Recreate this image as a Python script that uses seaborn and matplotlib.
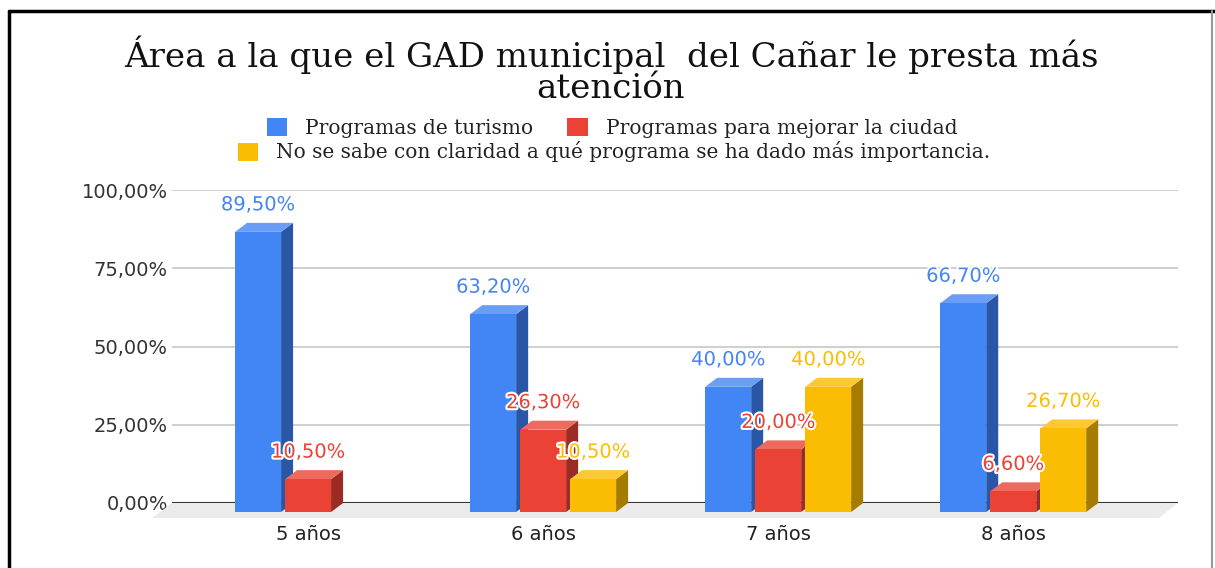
import numpy as np
import pandas as pd
import matplotlib
matplotlib.use('Agg')
import matplotlib.pyplot as plt
import matplotlib.patheffects as pe
import matplotlib.transforms as mtransforms
from matplotlib.patches import Polygon, Patch
from matplotlib.lines import Line2D
import seaborn as sns

# Data
categorias = ['5 años', '6 años', '7 años', '8 años']
series = ['Programas de turismo', 'Programas para mejorar la ciudad',
          'No se sabe con claridad a qué programa se ha dado más importancia.']
turismo = [89.5, 63.2, 40.0, 66.7]
mejorar = [10.5, 26.3, 20.0, 6.6]
no_sabe = [np.nan, 10.5, 40.0, 26.7]
y_ticks = [0, 25, 50, 75, 100]
y_labels = ['0,00%', '25,00%', '50,00%', '75,00%', '100,00%']
titulo = 'Área a la que el GAD municipal  del Cañar le presta más\natención'

# Colors (front, side, top)
colores = ['#4285F4', '#EA4335', '#FBBC04']
lados = ['#2A56A6', '#9B2B23', '#A67C00']
techos = ['#6A9EF6', '#EE6A5F', '#FCC934']

df = pd.DataFrame({'Edad': categorias * 3,
                   'Serie': np.repeat(series, len(categorias)),
                   'Valor': turismo + mejorar + no_sabe}).dropna()

W, H, dpi = 1215, 568, 100
sns.set_style('white')
plt.rcParams['font.family'] = ['DejaVu Sans']

fig = plt.figure(figsize=(W / dpi, H / dpi), dpi=dpi)
ax = fig.add_axes([172 / W, 1 - 503 / H, (1178 - 172) / W, (503 - 190) / H])

sns.barplot(data=df, x='Edad', y='Valor', hue='Serie', order=categorias,
            hue_order=series, palette=colores, width=0.638, gap=0.08,
            saturation=1, legend=False, ax=ax, linewidth=0, zorder=3)

ax.set_xlim(-0.63, 3.65)
ax.set_ylim(0, 100)
ax.set_autoscale_on(False)
ax.set_yticks(y_ticks)
ax.set_yticklabels(y_labels)
ax.set_xticks(range(len(categorias)))
ax.set_xticklabels([])
ax.set_xlabel('')
ax.set_ylabel('')
ax.tick_params(axis='y', length=0, pad=3, labelsize=14, labelcolor='#333333')
ax.tick_params(axis='x', length=0)
for s in ax.spines.values():
    s.set_visible(False)
ax.yaxis.grid(True, color='#cccccc', lw=1.3, zorder=0)
ax.set_axisbelow(True)
ax.axhline(0, color='#333333', lw=1.5, zorder=1.5)

# 3D look: shift front faces down-left, add side and top faces
dx, dy = 12, 9
shift = mtransforms.ScaledTranslation(-dx / dpi, -dy / dpi, fig.dpi_scale_trans)
ident = mtransforms.IdentityTransform()

# floor
(lx, ly), (rx, ry) = ax.transData.transform([(-0.63, 0), (3.65, 0)])
floor = Polygon([(lx, ly), (rx, ry), (rx - 19, ry - 15), (lx - 20, ly - 15)],
                closed=True, transform=ident, facecolor='#ebebeb',
                edgecolor='none', zorder=1, clip_on=False)
ax.add_patch(floor)

for i, cont in enumerate(ax.containers):
    for bar in cont:
        x0, w, h = bar.get_x(), bar.get_width(), bar.get_height()
        if np.isnan(h):
            continue
        bar.set_transform(ax.transData + shift)
        bar.set_clip_on(False)
        (bx0, by0), (bx1, by1) = ax.transData.transform([(x0, 0), (x0 + w, h)])
        fx0, fx1, fy0, fy1 = bx0 - dx, bx1 - dx, by0 - dy, by1 - dy
        top = Polygon([(fx0, fy1), (fx1, fy1), (bx1, by1), (bx0, by1)],
                      closed=True, transform=ident, facecolor=techos[i],
                      edgecolor='none', zorder=2.5, clip_on=False)
        side = Polygon([(fx1, fy0), (fx1, fy1), (bx1, by1), (bx1, by0)],
                       closed=True, transform=ident, facecolor=lados[i],
                       edgecolor='none', zorder=2.5, clip_on=False)
        ax.add_patch(side)
        ax.add_patch(top)
        etiqueta = f'{h:.2f}%'.replace('.', ',')
        ax.annotate(etiqueta, xy=(x0 + w / 2, h), xytext=(-dx * 0.72, 18 * 0.72),
                    textcoords='offset points', ha='center', va='center',
                    fontsize=14, color=colores[i], zorder=5,
                    path_effects=[pe.withStroke(linewidth=3, foreground='white')])

# category labels under the front faces
for k, c in enumerate(categorias):
    ax.annotate(c, xy=(k, 0), xytext=(-dx * 0.72, -32 * 0.72),
                textcoords='offset points', ha='center', va='center',
                fontsize=14, color='#222222')

# Title
fig.text(611 / W, 1 - 70 / H, titulo, ha='center', va='center',
         family='DejaVu Serif', fontsize=24.5, linespacing=0.95, color='#111111')

# Legend in two rows
handles = [Patch(facecolor=c, edgecolor='none') for c in colores]
leg1 = fig.legend(handles[:2], series[:2], ncol=2, loc='center',
                  bbox_to_anchor=(612 / W, 1 - 128 / H), frameon=False,
                  prop={'family': 'DejaVu Serif', 'size': 14.5},
                  handlelength=1.0, handleheight=1.0, handletextpad=0.9,
                  columnspacing=1.7, borderpad=0)
leg2 = fig.legend(handles[2:], series[2:], ncol=1, loc='center',
                  bbox_to_anchor=(614 / W, 1 - 152 / H), frameon=False,
                  prop={'family': 'DejaVu Serif', 'size': 14.5},
                  handlelength=1.0, handleheight=1.0, handletextpad=0.9,
                  borderpad=0)
for t in leg1.get_texts() + leg2.get_texts():
    t.set_color('#222222')

# frame lines
fig.add_artist(Line2D([9 / W, 1], [1 - 11 / H, 1 - 11 / H], transform=fig.transFigure,
                      color='black', lw=2.5))
fig.add_artist(Line2D([9 / W, 9 / W], [0, 1 - 11 / H], transform=fig.transFigure,
                      color='black', lw=2.5))
fig.add_artist(Line2D([1212 / W, 1212 / W], [0, 1 - 11 / H], transform=fig.transFigure,
                      color='#999999', lw=1.5))

fig.savefig('out.png', dpi=dpi)
